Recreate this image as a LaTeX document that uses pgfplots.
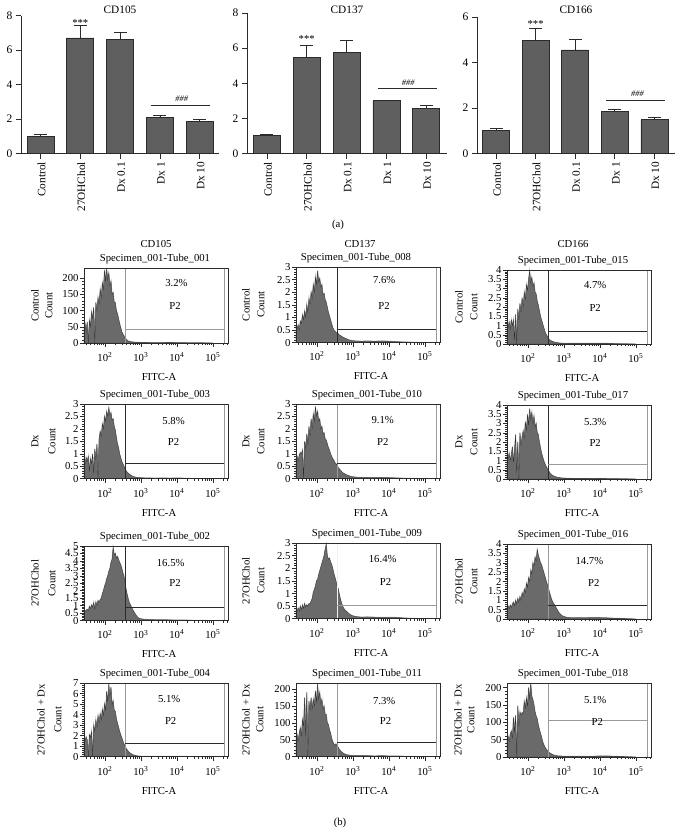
\documentclass[border=0pt]{standalone}
\usepackage{pgfplots}
\pgfplotsset{compat=1.18}
\usepackage{pgfplotstable}
\usepackage{fontspec}
\setmainfont{Liberation Serif}
\newcommand\fs{\fontsize{10.7}{12}\selectfont}
\definecolor{barfill}{HTML}{5F5F5F}
\definecolor{histfill}{HTML}{6A6A6A}
\definecolor{dk}{HTML}{2B2B2B}
\definecolor{gatel}{HTML}{9A9A9A}

\pgfplotstableread{
x y e
0 1.00 0.12
1 6.70 0.75
2 6.62 0.40
3 2.10 0.10
4 1.85 0.12
}\barsA
\pgfplotstableread{
x y e
0 1.03 0.07
1 5.47 0.70
2 5.75 0.70
3 3.00 0.03
4 2.55 0.20
}\barsB
\pgfplotstableread{
x y e
0 1.00 0.10
1 4.97 0.53
2 4.55 0.47
3 1.85 0.08
4 1.48 0.10
}\barsC

\pgfplotstableread{
x a1 a2 a3 b1 b2 b3 c1 c2 c3 d1 d2 d3
1.42 45 .65 1.1 .8 .8 1.2 .65 .36 .6 1.7 55 50
1.45 60 .55 .9 .6 .9 1.1 .6 .3 .7 1.5 65 60
1.48 35 .7 1.2 .85 .7 1.4 .7 .42 .55 1.9 45 45
1.51 65 .5 .8 .7 .95 1.0 .75 .3 .75 1.6 70 65
1.54 0 .85 1.3 .9 1.05 1.3 .65 .5 .6 0 85 75
1.57 70 .75 1.0 .3 1.0 1.75 .95 .35 .8 2.1 60 55
1.60 50 1.1 1.3 .8 1.15 .9 .8 .55 .9 1.8 110 115
1.63 95 .9 .2 .6 0 1.6 1.05 .4 .7 2.4 90 70
1.66 75 1.25 1.6 1.0 1.5 2.4 .9 .6 1.0 0 175 120
1.69 110 1.0 0 .2 1.2 .3 1.2 .45 .8 3.0 60 0
1.72 0 1.5 1.9 1.2 1.8 2.0 .75 .55 1.1 2.4 190 148
1.75 125 1.2 1.3 .75 1.4 0 1.25 .5 .9 3.5 0 90
1.78 100 1.75 2.2 1.4 2.1 2.5 1.0 .6 1.2 2.8 165 130
1.81 140 1.5 1.7 0 1.7 1.8 1.35 .6 1.0 3.9 135 120
1.84 120 2.0 2.5 1.6 2.4 2.3 1.2 .7 1.4 3.2 175 128
1.87 165 1.75 2.0 1.9 2.0 2.6 1.4 .8 1.2 4.1 140 125
1.90 140 2.3 2.8 1.7 2.6 2.2 1.5 1.05 1.6 3.5 170 160
1.93 185 2.0 2.4 2.2 2.3 3.1 1.8 1.15 1.4 4.5 150 140
1.96 165 2.6 3.2 2.0 2.9 2.6 2.0 1.3 1.9 3.9 195 170
1.99 225 2.3 2.9 2.5 2.5 3.5 2.3 1.5 1.7 5.0 160 145
2.02 190 2.85 3.5 2.3 2.7 2.9 2.5 1.55 2.2 4.4 215 200
2.05 228 2.4 3.95 2.7 2.3 3.8 2.8 1.75 2.0 6.2 170 165
2.08 195 2.55 3.3 2.5 2.4 3.2 3.0 1.9 2.6 5.2 190 212
2.11 215 2.2 3.6 2.85 2.0 3.6 3.3 2.05 2.4 6.9 155 175
2.14 175 2.3 3.1 2.55 2.1 3.0 3.5 2.2 3.0 5.7 170 165
2.17 190 1.9 3.3 2.65 1.8 3.4 3.9 2.35 2.8 6.6 140 150
2.20 150 1.95 2.8 2.35 1.85 2.8 4.1 2.5 3.3 4.9 150 130
2.23 155 1.7 2.7 2.4 1.6 3.0 4.9 2.75 3.1 5.3 125 118
2.26 125 1.6 2.3 2.1 1.55 2.5 4.4 2.95 3.7 4.4 125 110
2.29 125 1.4 2.1 1.95 1.4 2.4 4.5 2.5 3.4 4.3 100 92
2.32 100 1.2 1.8 1.65 1.25 2.0 4.2 2.35 3.2 3.6 95 80
2.35 90 1.05 1.5 1.4 1.15 1.7 4.3 2.4 3.0 3.2 80 68
2.38 75 .9 1.3 1.25 1.0 1.4 4.1 2.25 2.9 2.8 70 58
2.41 60 .75 1.1 1.0 .9 1.2 3.9 2.15 2.7 2.4 55 45
2.44 48 .6 .9 .85 .8 1.0 3.75 2.0 2.5 2.1 45 36
2.47 35 .5 .7 .7 .75 .85 3.5 1.8 2.3 1.8 38 29
2.50 28 .45 .55 .6 .65 .7 3.2 1.65 2.1 1.5 33 24
2.53 22 .4 .45 .5 .6 .6 3.0 1.5 1.9 1.2 38 20
2.56 16 .4 .35 .4 .55 .5 2.5 1.3 1.7 1.0 32 16
2.59 12 .35 .25 .32 .45 .4 2.1 1.2 1.5 .8 28 13
2.62 8 .3 .2 .26 .4 .3 1.75 1.0 1.3 .65 22 11
2.65 6 .28 .17 .22 .35 .25 1.45 .8 1.1 .5 18 9
2.68 5 .25 .14 .18 .3 .2 1.2 .65 .95 .4 15 7
2.71 4 .22 .12 .15 .25 .17 1.05 .52 .85 .32 12 6
2.74 4 .2 .1 .12 .22 .14 .9 .43 .75 .26 10 5
2.77 3 .18 .09 .1 .2 .12 .75 .36 .65 .2 8 4
2.80 3 .16 .08 .08 .17 .1 .62 .32 .55 .16 7 4
2.83 2 .14 .07 .07 .15 .09 .5 .28 .45 .13 6 3
2.86 2 .12 .06 .06 .13 .08 .38 .24 .35 .1 5 3
2.89 2 .1 .05 .05 .12 .07 .28 .2 .28 .08 5 3
2.92 2 .1 .05 .05 .1 .06 .2 .17 .22 .07 4 3
2.95 1.5 .08 .04 .04 .09 .05 .15 .15 .18 .06 4 2
2.98 1.5 .07 .04 .04 .08 .05 .12 .12 .14 .05 3 2
3.10 1.5 .06 .04 .03 .06 .04 .08 .08 .08 .04 3 2
3.25 1 .05 .03 .03 .05 .03 .06 .06 .06 .04 3 2
3.40 1 .06 .03 .02 .05 .03 .05 .07 .07 .03 3 2
3.60 1 .05 .03 .03 .04 .03 .05 .06 .06 .04 2 2
3.80 1.5 .06 .04 .02 .05 .02 .04 .05 .08 .03 3 2
4.00 1 .05 .03 .03 .04 .03 .03 .05 .07 .03 2 3
4.20 1 .03 .03 .02 .03 .02 .03 .05 .06 .03 2 3
4.40 .5 .02 .02 .01 .02 .02 .02 .03 .04 .02 1.5 2
4.70 .5 .01 .01 .01 .01 .01 .01 .01 .02 .01 1 1
5.00 0 0 0 0 0 0 0 0 0 0 0 0
}\hists

\pgfplotsset{
  barax/.style={
    scale only axis, ybar, bar width=27pt, bar shift=0pt,
    axis x line*=bottom, axis y line*=left, ymin=0, ymax=#1,
    xtick={0,1,2,3,4},
    xticklabels={Control,27OHChol,Dx 0.1,Dx 1,Dx 10},
    xticklabel style={rotate=90,anchor=east,font=\fontsize{11.3}{13}\selectfont,yshift=-1pt},
    yticklabel style={font=\fontsize{11.5}{13}\selectfont},
    /pgf/number format/assume math mode=true,
    tick align=outside, major tick length=5pt, tick style={dk,line width=.7pt},
    axis line style={dk,line width=.8pt,-},
    clip=false,
    ytick distance=2,
  },
  histax/.style={
    scale only axis, axis on top,
    xmin=1.42, xmax=5.435, ymin=0,
    xtick={2,3,4,5},
    xticklabels={10\textsuperscript{2},10\textsuperscript{3},10\textsuperscript{4},10\textsuperscript{5}},
    minor xtick={1.48,1.6,1.7,1.78,1.85,1.9,1.95,2.3,2.48,2.6,2.7,2.78,2.85,2.9,2.95,3.3,3.48,3.6,3.7,3.78,3.85,3.9,3.95,4.3,4.48,4.6,4.7,4.78,4.85,4.9,4.95,5.3,5.4},
    minor y tick num=4,
    tick align=outside, major tick length=4pt, minor tick length=2pt,
    tick style={dk,line width=.5pt},
    xtick pos=bottom, ytick pos=left,
    axis line style={dk,line width=.7pt},
    tick label style={font=\fs},
    xticklabel style={yshift=-2pt},
    yticklabel style={xshift=2pt},
    /pgf/number format/assume math mode=true,
    clip=false,
  },
}
% first part: left, top, bottom, ymax, yticks, column, hline value, title number, percentage
\newcommand\hist[9]{\def\pL{#1}\def\pT{#2}\def\pB{#3}\def\pM{#4}\def\pY{#5}\def\pC{#6}\def\pH{#7}\def\pN{#8}\def\pP{#9}\histb}
% second part: side label, its offset, Count offset, title centre, pct x, pct y, P2 x, P2 y, hline colour; \vc is the vline colour
\newcommand\histb[9]{%
\pgfmathsetmacro\pHt{\pB-\pT}%
\begin{axis}[histax, at={(\pL pt,-\pB pt)}, anchor=south west, width=144.5pt, height=\pHt pt,
  ymax=\pM, ytick={\pY}]
\addplot[draw=gray!70,line width=.9pt,forget plot] table[x=x,y=\pC]{\hists};
\addplot[fill=histfill,draw=dk,line width=.25pt,forget plot] table[x=x,y=\pC]{\hists} \closedcycle;
\draw[line width=.6pt,\vc] (axis cs:2.56,0) -- (axis cs:2.56,\pM);
\draw[line width=.6pt,#9] (axis cs:2.56,\pH) -- (axis cs:5.31,\pH);
\draw[line width=.6pt,gatel] (axis cs:5.31,0) -- (axis cs:5.31,\pM);
\node[xshift=-#2pt,font=\fs,rotate=90] at (rel axis cs:0,.5) {#1};
\node[xshift=-#3pt,font=\fs,rotate=90] at (rel axis cs:0,.5) {Count};
\node[font=\fs] at (rel axis cs:0,1) [xshift=#4pt,yshift=9pt] {Specimen\_001-Tube\_\pN};
\node[font=\fs] at (rel axis cs:#5,#6) {\pP\%};
\node[font=\fs] at (rel axis cs:#7,#8) {P2};
\node[font=\fs] at (rel axis cs:0,0) [xshift=75pt,yshift=-34pt] {FITC-A};
\end{axis}}

\begin{document}
\begin{tikzpicture}[x=1pt,y=1pt]
\path[use as bounding box] (0,0) rectangle (682,-832);

% ---- panel (a)
\begin{axis}[barax=8, at={(21pt,-153.5pt)}, anchor=south west, width=198pt, height=138pt, xmin=-.49, xmax=4.485]
\addplot[fill=barfill,draw=dk,line width=.7pt,error bars/.cd,y dir=plus,y explicit,error bar style={dk,line width=.8pt},error mark options={dk,rotate=90,mark size=6.5pt,line width=.8pt}] table[x=x,y=y,y error=e]{\barsA};
\node[font=\fs] at (axis cs:1,7.55) {***};
\draw[dk,line width=.7pt] (axis cs:2.77,2.81) -- (axis cs:4.25,2.81);
\node[font=\fontsize{8.5}{10}\selectfont\itshape] at (axis cs:3.55,3.2) {\#\#\#};
\end{axis}
\begin{axis}[barax=8, at={(247pt,-153.5pt)}, anchor=south west, width=200pt, height=140.5pt, xmin=-.5, xmax=4.52]
\addplot[fill=barfill,draw=dk,line width=.7pt,error bars/.cd,y dir=plus,y explicit,error bar style={dk,line width=.8pt},error mark options={dk,rotate=90,mark size=6.5pt,line width=.8pt}] table[x=x,y=y,y error=e]{\barsB};
\node[font=\fs] at (axis cs:1,6.5) {***};
\draw[dk,line width=.7pt] (axis cs:2.78,3.7) -- (axis cs:4.26,3.7);
\node[font=\fontsize{8.5}{10}\selectfont\itshape] at (axis cs:3.55,4.05) {\#\#\#};
\end{axis}
\begin{axis}[barax=6, at={(477pt,-153.5pt)}, anchor=south west, width=198pt, height=136.5pt, xmin=-.48, xmax=4.52]
\addplot[fill=barfill,draw=dk,line width=.7pt,error bars/.cd,y dir=plus,y explicit,error bar style={dk,line width=.8pt},error mark options={dk,rotate=90,mark size=6.5pt,line width=.8pt}] table[x=x,y=y,y error=e]{\barsC};
\node[font=\fs] at (axis cs:1,5.68) {***};
\draw[dk,line width=.7pt] (axis cs:2.79,2.33) -- (axis cs:4.27,2.33);
\node[font=\fontsize{8.5}{10}\selectfont\itshape] at (axis cs:3.57,2.63) {\#\#\#};
\end{axis}
\node[font=\fontsize{11.3}{13}\selectfont] at (120,-10) {CD105};
\node[font=\fontsize{11.3}{13}\selectfont] at (347,-10) {CD137};
\node[font=\fontsize{11.3}{13}\selectfont] at (576,-10) {CD166};
\node[font=\fs] at (338,-225) {(a)};

% ---- panel (b) headers
\node[font=\fs] at (156,-244) {CD105};
\node[font=\fs] at (360,-244) {CD137};
\node[font=\fs] at (573,-244) {CD166};
\node[font=\fs] at (340,-823) {(b)};

% row 1
\def\vc{gatel}\hist{84}{268}{343}{231}{0,50,100,150,200}{a1}{43}{001}{3.2}{Control}{49}{35}{71}{.64}{.8}{.63}{.49}{gatel}
\def\vc{dk}\hist{296}{267}{342.5}{3}{0,.5,1,1.5,2,2.5,3}{a2}{.54}{008}{7.6}{Control}{50}{35}{60}{.61}{.83}{.61}{.49}{dk}
\def\vc{dk}\hist{507}{270}{344}{4}{0,.5,1,1.5,2,2.5,3,3.5,4}{a3}{.68}{015}{4.7}{Control}{48}{33}{66}{.61}{.8}{.61}{.49}{dk}
% row 2
\def\vc{dk}\hist{84}{404}{478.7}{3}{0,.5,1,1.5,2,2.5,3}{b1}{.62}{003}{5.8}{Dx}{49}{32}{71}{.62}{.77}{.62}{.49}{dk}
\def\vc{gatel}\hist{296}{404}{478.7}{3}{0,.5,1,1.5,2,2.5,3}{b2}{.62}{010}{9.1}{Dx}{50}{35}{71}{.6}{.78}{.6}{.49}{dk}
\def\vc{dk}\hist{507}{405}{479}{4}{0,.5,1,1.5,2,2.5,3,3.5,4}{b3}{.8}{017}{5.3}{Dx}{48}{33}{66}{.61}{.77}{.61}{.49}{gatel}
% row 3
\def\vc{dk}\hist{84}{546}{620.5}{5}{0,.5,1,1.5,2,2.5,3,3.5,4,4.5,5}{c1}{.9}{002}{16.5}{27OHChol}{49}{32}{71}{.6}{.77}{.63}{.5}{dk}
\def\vc{gray!10}\hist{296}{543}{618.7}{3}{0,.5,1,1.5,2,2.5,3}{c2}{.54}{009}{16.4}{27OHChol}{50}{35}{71}{.6}{.79}{.62}{.48}{gatel}
\def\vc{gatel}\hist{507}{544}{619}{4}{0,.5,1,1.5,2,2.5,3,3.5,4}{c3}{.71}{016}{14.7}{27OHChol}{48}{33}{66}{.57}{.77}{.6}{.48}{dk}
% row 4
\def\vc{gatel}\hist{84}{683}{756.7}{7}{0,1,2,3,4,5,6,7}{d1}{1.3}{004}{5.1}{27OHChol + Dx}{43}{26}{71}{.59}{.78}{.6}{.49}{dk}
\def\vc{gatel}\hist{296}{683}{756.7}{218}{0,50,100,150,200}{d2}{43}{011}{7.3}{27OHChol + Dx}{50}{36}{71}{.61}{.76}{.62}{.49}{dk}
\def\vc{gatel}\hist{507}{683}{757}{213}{0,50,100,150,200}{d3}{105}{018}{5.1}{27OHChol + Dx}{49}{36}{66}{.61}{.77}{.625}{.48}{gatel}
\end{tikzpicture}
\end{document}
